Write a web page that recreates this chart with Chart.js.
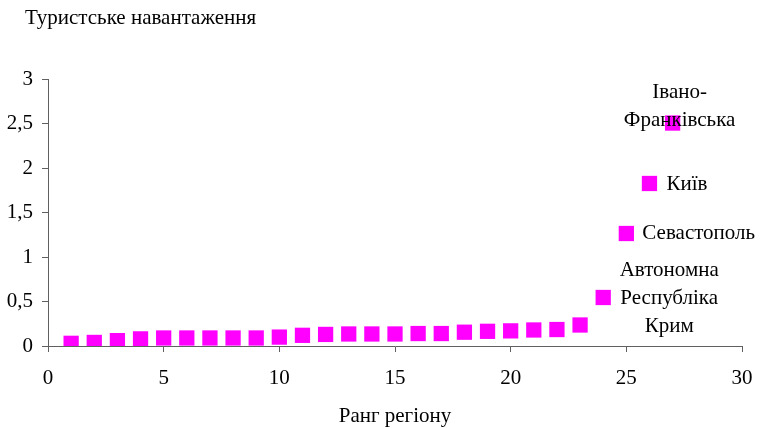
<!DOCTYPE html>
<html>
<head>
<meta charset="utf-8">
<script src="https://cdn.jsdelivr.net/npm/chart.js@4"></script>
<style>
html,body{margin:0;padding:0;background:#fff;}
#wrap{width:764px;height:428px;}
</style>
</head>
<body>
<div id="wrap"><canvas id="c" width="764" height="428"></canvas></div>
<script>
const ranks = [1,2,3,4,5,6,7,8,9,10,11,12,13,14,15,16,17,18,19,20,21,22,23,24,25,26,27];
const loads = [0.03,0.04,0.06,0.08,0.09,0.09,0.09,0.09,0.09,0.10,0.12,0.13,0.135,0.135,0.135,0.14,0.14,0.155,0.165,0.17,0.18,0.185,0.236,0.545,1.264,1.826,2.505];
const xTicks = [0,5,10,15,20,25,30];
const yTicks = [0,0.5,1,1.5,2,2.5,3];
const yAxisTitle = 'Туристське навантаження';
const xAxisTitle = 'Ранг регіону';
const labelRanks = [27,26,25,24];
const labelTexts = [['Івано-','Франківська'],['Київ'],['Севастополь'],['Автономна','Республіка','Крим']];

const SERIF = '"Liberation Serif","Times New Roman",serif';

const labelPlugin = {
  id:'labels',
  afterDatasetsDraw(chart){
    const ctx = chart.ctx, xs = chart.scales.x, ys = chart.scales.y;
    ctx.save();
    ctx.fillStyle = '#000';
    ctx.font = '21px ' + SERIF;
    ctx.textBaseline = 'middle';
    const lay = [
      {dx:7, align:'center', dys:[-31,-3]},
      {dx:17, align:'left', dys:[1]},
      {dx:16, align:'left', dys:[0]},
      {dx:66, align:'center', dys:[-27,1,29]}
    ];
    labelRanks.forEach((r,i)=>{
      const idx = ranks.indexOf(r);
      const px = xs.getPixelForValue(r), py = ys.getPixelForValue(loads[idx]);
      const L = lay[i];
      ctx.textAlign = L.align;
      labelTexts[i].forEach((t,j)=>ctx.fillText(t, px + L.dx, py + L.dys[j]));
    });
    ctx.textAlign = 'left';
    ctx.fillText(yAxisTitle, 25, 18);
    ctx.restore();
  }
};

new Chart(document.getElementById('c'), {
  type:'scatter',
  data:{datasets:[{
    data: ranks.map((r,i)=>({x:r,y:loads[i]})),
    backgroundColor:'#FF00FF',
    borderColor:'#FF00FF',
    borderWidth:0,
    pointStyle:'rect',
    pointRadius:10.8,
    pointHoverRadius:10.8
  }]},
  options:{
    responsive:false,
    animation:false,
    devicePixelRatio:1,
    layout:{padding:{top:79,right:22,left:0,bottom:0}},
    plugins:{legend:{display:false},tooltip:{enabled:false}},
    scales:{
      x:{
        type:'linear', min:0, max:30,
        afterBuildTicks(s){ s.ticks = xTicks.map(v=>({value:v})); },
        afterFit(s){ s.height = 82; s.paddingLeft = 0; s.paddingRight = 0; },
        grid:{display:true, drawOnChartArea:false, drawTicks:true, tickLength:6, color:'#606060'},
        border:{display:true, color:'#606060', width:1},
        ticks:{color:'#000', font:{family:SERIF, size:21}, padding:14, maxRotation:0},
        title:{display:true, text:xAxisTitle, color:'#000', font:{family:SERIF, size:21}, padding:{top:0,bottom:-1}}
      },
      y:{
        type:'linear', min:0, max:3,
        afterBuildTicks(s){ s.ticks = yTicks.map(v=>({value:v})); },
        afterFit(s){ s.width = 48; s.paddingTop = 0; s.paddingBottom = 0; },
        grid:{display:true, drawOnChartArea:false, drawTicks:true, tickLength:6, color:'#606060'},
        border:{display:true, color:'#606060', width:1},
        ticks:{color:'#000', font:{family:SERIF, size:21}, padding:9, callback:v=>String(v).replace('.',',')}
      }
    }
  },
  plugins:[labelPlugin]
});
</script>
</body>
</html>
